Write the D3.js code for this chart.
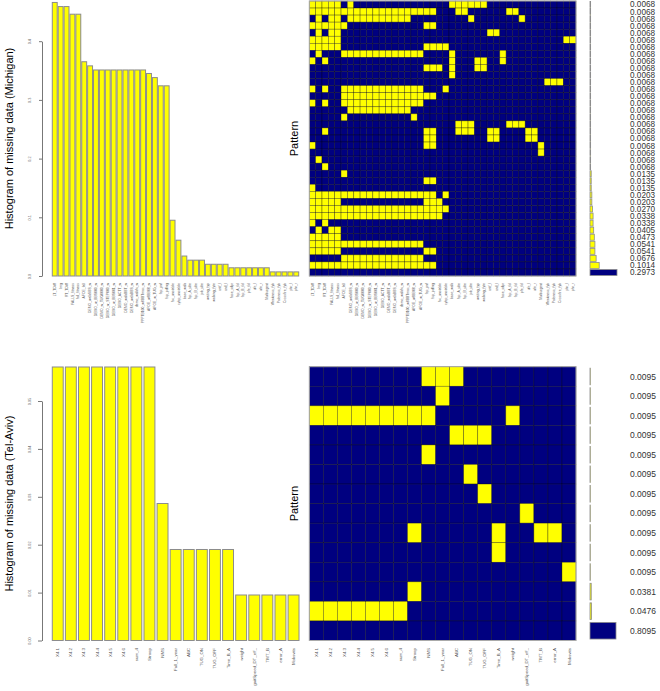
<!DOCTYPE html>
<html>
<head>
<meta charset="utf-8">
<script src="https://cdn.jsdelivr.net/npm/d3@7"></script>
<style>
  body { margin: 0; background: #fff; }
  svg { display: block; font-family: "Liberation Sans", Arial, sans-serif; }
</style>
</head>
<body>
<div id="chart"></div>
<script>
// ---- Michigan ----
const miVars = ["LT_TDW", "Img", "RT_TDW", "FALLS_fitness", "fall_fitness", "AFOE_fall",
  "DEMO_walkSBS_w", "DEMO_w_BBS000_w", "DEMO_w_TUG0000_w", "DEMO_w_STEP000_w", "DEMO_w_BBS001_w",
  "DEMO_ACTT_w", "DEMO_walkBBT_w", "DEMO_walkBBS_w", "demo_walkfx_w", "PPPTB100_w8BBTmac_w",
  "AFOE_w8BB08_w", "AFOE_w_TUG_w", "fsp_pnf", "fsp_pdfing", "fsc_unstable", "cybp_unstable",
  "base_walk", "fsp_A_ulte", "fsp_B_ulte", "job_ulte", "waiting_typ", "walking_fyte", "cntf_l",
  "cnd_l", "fase_sdpr", "fsp_A_fol", "fsp_B_fol", "pfe_fol", "ufe_l", "ufe_r", "Multiurgent",
  "Weakness_fyb", "Paleness_fyb", "Crossfire_fyb", "phr_l", "phr_r"];
const miMissing = [0.466, 0.459, 0.459, 0.446, 0.446, 0.365, 0.358,
  0.351, 0.351, 0.351, 0.351, 0.351, 0.351, 0.351, 0.351, 0.351,
  0.345, 0.338, 0.324, 0.324, 0.095, 0.061, 0.034, 0.027, 0.027, 0.027,
  0.020, 0.020, 0.020, 0.020, 0.014, 0.014, 0.014, 0.014, 0.014, 0.014, 0.014,
  0.007, 0.007, 0.007, 0.007, 0.007];
const miTicks = [0, 0.1, 0.2, 0.3, 0.4];
// missing columns of each pattern (top to bottom)
const miPatterns = ["0-4 6 22-27", "0-19 23 24 31 32", "1 3 4 6-15 25 33", "0-5 18 19",
  "1 3 4 28 29", "0-4 40 41", "0-4 18-21", "1 5-17 22 30", "0 2 22 26 27 30",
  "18-20 22 26 27", "22", "37-39", "0 2 5-17 21", "5-19", "0 2 5-17", "6-15", "5 16",
  "23-25 31-33", "2 18 19 23-25 28 29 34 35", "18 19 28 29 34 35", "0 18 19 36", "36",
  "1", "2", "5", "18 19", "0", "0-19 21", "0-4 18-20", "0-21", "0-20", "0 2", "1 3 4",
  "0-4", "0-17", "0-4 18 19", "5-17", "0-19", ""];
const miProps = [0.0068, 0.0068, 0.0068, 0.0068, 0.0068, 0.0068, 0.0068, 0.0068,
  0.0068, 0.0068, 0.0068, 0.0068, 0.0068, 0.0068, 0.0068, 0.0068, 0.0068, 0.0068,
  0.0068, 0.0068, 0.0068, 0.0068, 0.0068, 0.0068, 0.0135, 0.0135, 0.0135,
  0.0203, 0.0203, 0.0270, 0.0338, 0.0338, 0.0405, 0.0473, 0.0541, 0.0541,
  0.0676, 0.1014, 0.2973];

// ---- Tel-Aviv ----
const taVars = ["X4.1", "X4.2", "X4.3", "X4.4", "X4.5", "X4.6", "sum_4", "Stroop", "NMS",
  "Fall_1_year", "ABC", "TUG_ON", "TUG_OFF", "Time_B_A", "weight", "gaitSpeed_DT_eff_",
  "TMT_B", "error_A", "Moksvits"];
const taMissing = [0.0571, 0.0571, 0.0571, 0.0571, 0.0571, 0.0571, 0.0571, 0.0571,
  0.0286, 0.0190, 0.0190, 0.0190, 0.0190, 0.0190, 0.0095, 0.0095, 0.0095, 0.0095, 0.0095];
const taTicks = [0, 0.01, 0.02, 0.03, 0.04, 0.05];
const taPatterns = ["8-10", "9", "0-8 14", "10-12", "8", "11", "12", "15",
  "7 13 16 17", "13", "18", "7", "0-6", ""];
const taProps = [0.0095, 0.0095, 0.0095, 0.0095, 0.0095, 0.0095, 0.0095, 0.0095,
  0.0095, 0.0095, 0.0095, 0.0381, 0.0476, 0.8095];

const YELLOW = "#ffff00", NAVY = "#000080";
const width = 660, height = 691;

const svg = d3.select("#chart").append("svg")
  .attr("width", width)
  .attr("height", height);

function parseCols(s) {
  const out = new Set();
  s.split(" ").filter(t => t).forEach(t => {
    const [a, b] = t.split("-").map(Number);
    for (let i = a; i <= (b === undefined ? a : b); i++) out.add(i);
  });
  return out;
}

function drawPanel(cfg) {
  const g = svg.append("g");

  // histogram
  const x = d3.scaleBand().domain(cfg.vars).range(cfg.histX)
    .paddingInner(1 / 6).paddingOuter(1 / 12);
  const y = d3.scaleLinear()
    .domain([0, cfg.ticks[cfg.ticks.length - 1]])
    .range([cfg.bottom, cfg.axisTop]);

  g.append("g").selectAll("rect")
    .data(cfg.missing)
    .join("rect")
    .attr("x", (d, i) => x(cfg.vars[i]))
    .attr("y", d => y(d))
    .attr("width", x.bandwidth())
    .attr("height", d => cfg.bottom - y(d))
    .attr("fill", YELLOW)
    .attr("stroke", "#8c8c8c")
    .attr("stroke-width", 1);

  const yAxis = g.append("g")
    .attr("transform", "translate(42,0)")
    .call(d3.axisLeft(y).tickValues(cfg.ticks).tickSize(cfg.tickLen)
      .tickSizeOuter(0).tickFormat(cfg.fmt));
  yAxis.select(".domain").attr("stroke", "#777");
  yAxis.selectAll(".tick line").attr("stroke", "#777");
  yAxis.selectAll(".tick text")
    .attr("x", null).attr("dy", null)
    .attr("text-anchor", "middle")
    .attr("transform", "translate(-11.5,0) rotate(-90)")
    .attr("fill", "#666")
    .style("font-size", "3.8px");

  const labelFs = cfg.labelFs;
  g.append("g").selectAll("text")
    .data(cfg.vars)
    .join("text")
    .attr("transform", d => `translate(${x(d) + x.bandwidth() / 2 + labelFs * 0.35},${cfg.labelY}) rotate(-90)`)
    .attr("text-anchor", "end")
    .attr("fill", "#555")
    .style("font-size", labelFs + "px")
    .text(d => d);

  g.append("text")
    .attr("transform", `translate(12.5,${(cfg.top + cfg.bottom) / 2}) rotate(-90)`)
    .attr("text-anchor", "middle")
    .style("font-size", "11px")
    .text(cfg.title);

  // pattern grid
  const gx = d3.scaleBand().domain(cfg.vars).range(cfg.gridX);
  const rows = cfg.patterns.map(parseCols);
  const gy = d3.scaleBand().domain(d3.range(rows.length)).range([cfg.top, cfg.bottom]);

  const cells = [];
  rows.forEach((set, r) => cfg.vars.forEach((v, c) => cells.push({ r, v, miss: set.has(c) })));

  g.append("g").selectAll("rect")
    .data(cells)
    .join("rect")
    .attr("x", d => gx(d.v))
    .attr("y", d => gy(d.r))
    .attr("width", gx.bandwidth())
    .attr("height", gy.bandwidth())
    .attr("fill", d => d.miss ? YELLOW : NAVY)
    .attr("stroke", "rgba(0,0,0,0.5)")
    .attr("stroke-width", 0.6);

  g.append("rect")
    .attr("x", cfg.gridX[0]).attr("y", cfg.top)
    .attr("width", cfg.gridX[1] - cfg.gridX[0])
    .attr("height", cfg.bottom - cfg.top)
    .attr("fill", "none")
    .attr("stroke", "#aaa")
    .attr("stroke-width", 1);

  g.append("g").selectAll("text")
    .data(cfg.vars)
    .join("text")
    .attr("transform", d => `translate(${gx(d) + gx.bandwidth() / 2 + labelFs * 0.35},${cfg.labelY}) rotate(-90)`)
    .attr("text-anchor", "end")
    .attr("fill", "#555")
    .style("font-size", labelFs + "px")
    .text(d => d);

  g.append("text")
    .attr("transform", `translate(298,${(cfg.top + cfg.bottom) / 2}) rotate(-90)`)
    .attr("text-anchor", "middle")
    .style("font-size", "11px")
    .text("Pattern");

  // proportions of each pattern
  const px = d3.scaleLinear().domain([0, d3.max(cfg.props)]).range([0, cfg.propW]);
  const bh = gy.bandwidth() * 0.85;
  g.append("g").selectAll("rect")
    .data(cfg.props)
    .join("rect")
    .attr("x", 590)
    .attr("y", (d, i) => gy(i) + (gy.bandwidth() - bh) / 2)
    .attr("width", d => px(d))
    .attr("height", bh)
    .attr("fill", (d, i) => rows[i].size ? YELLOW : NAVY)
    .attr("stroke", "#8c8c8c")
    .attr("stroke-width", 0.8);

  g.append("g").selectAll("text")
    .data(cfg.props)
    .join("text")
    .attr("x", 630)
    .attr("y", (d, i) => gy(i) + gy.bandwidth() / 2 + cfg.propFs * 0.36)
    .attr("fill", "#333")
    .style("font-size", cfg.propFs + "px")
    .text(d => d3.format(".4f")(d));
}

drawPanel({
  vars: miVars, missing: miMissing, ticks: miTicks, fmt: d3.format(".1f"),
  patterns: miPatterns, props: miProps,
  title: "Histogram of missing data (Michigan)",
  top: 1, bottom: 276, axisTop: 276 - 0.4 * 587,
  histX: [51.8, 299.2], gridX: [309.3, 576], tickLen: 3,
  labelY: 283, labelFs: 3.4, propW: 27, propFs: 8.2
});

drawPanel({
  vars: taVars, missing: taMissing, ticks: taTicks, fmt: d3.format(".2f"),
  patterns: taPatterns, props: taProps,
  title: "Histogram of missing data (Tel-Aviv)",
  top: 366.7, bottom: 640.5, axisTop: 640.5 - 0.05 * 4790,
  histX: [51.2, 300.1], gridX: [309.3, 576], tickLen: 4,
  labelY: 648, labelFs: 4.4, propW: 26, propFs: 8.5
});
</script>
</body>
</html>
